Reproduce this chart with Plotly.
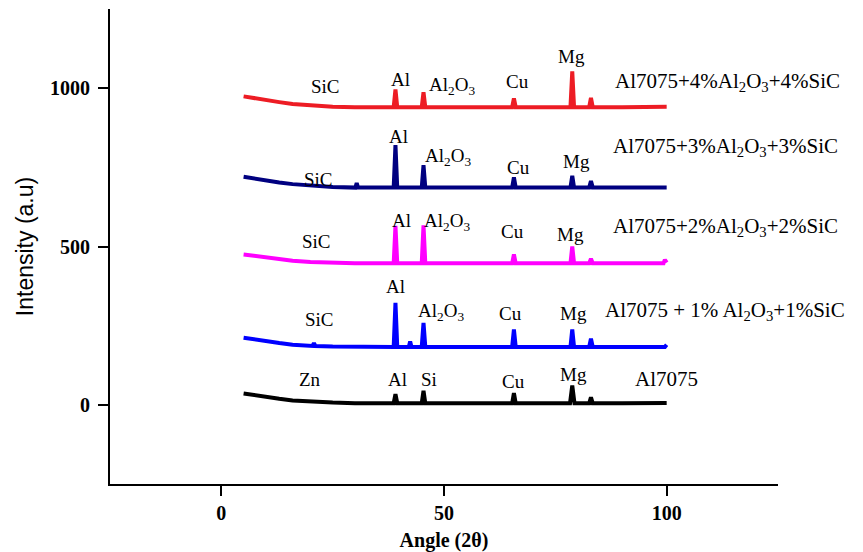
import plotly.graph_objects as go

# ---------------- data ----------------
# 2-theta sample points (deg) and intensities (a.u.) for each pattern
al7075_x = [5, 7, 10, 13, 16, 20, 25, 30, 38.7, 39.1, 39.5, 45.0, 45.4, 45.8,
            65.3, 65.7, 66.1, 78.3, 78.8, 79.3, 82.6, 83.0, 83.4, 90, 100]
al7075_y = [36, 31, 25, 19, 14, 10, 7, 5, 5, 34, 5, 5, 44, 5,
            5, 37, 5, 5, 61, 5, 5, 24, 5, 5, 6]

mix1_x = [5, 7, 10, 13, 16, 20.5, 20.8, 21.1, 25, 30, 38.7, 39.1, 39.5,
          42.1, 42.4, 42.7, 45.0, 45.4, 45.8, 65.3, 65.7, 66.1, 78.4, 78.8, 79.2,
          82.6, 83.0, 83.4, 90, 99.6, 100]
mix1_y = [212, 207, 200, 195, 190, 186, 195, 186, 184, 183, 183, 322, 183,
          183, 200, 183, 183, 259, 183, 183, 238, 183, 183, 238, 183,
          183, 209, 183, 183, 183, 190]

mix2_x = [5, 7, 10, 13, 16, 20, 25, 30, 38.7, 39.1, 39.5, 45.0, 45.4, 45.8,
          65.3, 65.7, 66.1, 78.4, 78.8, 79.2, 82.6, 83.0, 83.4, 90, 99.3, 99.6, 100]
mix2_y = [475, 471, 465, 460, 455, 451, 448, 447, 447, 565, 447, 447, 567, 447,
          447, 475, 447, 447, 500, 447, 447, 461, 447, 447, 447, 458, 449]

mix3_x = [5, 7, 10, 13, 16, 20, 25, 30.1, 30.4, 30.7, 33, 38.7, 39.1, 39.5,
          45.0, 45.4, 45.8, 65.3, 65.7, 66.1, 78.4, 78.8, 79.2, 82.6, 83.0, 83.4, 90, 100]
mix3_y = [720, 715, 708, 702, 697, 692, 688, 686, 700, 686, 686, 686, 820, 686,
          686, 757, 686, 686, 718, 686, 686, 723, 686, 686, 707, 686, 686, 686]

mix4_x = [5, 7, 10, 13, 16, 20, 25, 30, 38.7, 39.1, 39.5, 45.0, 45.4, 45.8,
          65.3, 65.7, 66.1, 78.4, 78.8, 79.2, 82.6, 83.0, 83.4, 90, 100]
mix4_y = [974, 969, 962, 956, 950, 945, 941, 940, 940, 996, 940, 940, 987, 940,
          940, 968, 940, 940, 1053, 940, 940, 969, 940, 940, 941]

series_names = ["Al7075", "Al7075 + 1% Al2O3+1%SiC", "Al7075+2%Al2O3+2%SiC",
                "Al7075+3%Al2O3+3%SiC", "Al7075+4%Al2O3+4%SiC"]
series_colors = ["#000000", "#0000ff", "#ff00ff", "#000080", "#ed1c24"]

# sample labels at the right end of each pattern
sample_text = ["Al7075", "Al7075 + 1% Al<sub>2</sub>O<sub>3</sub>+1%SiC",
               "Al7075+2%Al<sub>2</sub>O<sub>3</sub>+2%SiC",
               "Al7075+3%Al<sub>2</sub>O<sub>3</sub>+3%SiC",
               "Al7075+4%Al<sub>2</sub>O<sub>3</sub>+4%SiC"]
sample_x = [92.4, 85.8, 87.4, 87.6, 88.0]
sample_y = [82, 295, 561, 814, 1020]

# phase labels over the peaks
A = "Al<sub>2</sub>O<sub>3</sub>"
phase_text = ["Zn", "Al", "Si", "Cu", "Mg",
              "SiC", "Al", A, "Cu", "Mg",
              "SiC", "Al", A, "Cu", "Mg",
              "SiC", "Al", A, "Cu", "Mg",
              "SiC", "Al", A, "Cu", "Mg"]
phase_x = [19.9, 39.5, 46.7, 65.6, 79.1,
           22.1, 39.0, 49.4, 64.9, 79.0,
           21.3, 40.4, 50.6, 65.4, 78.4,
           21.9, 39.7, 51.0, 66.7, 79.8,
           23.5, 40.3, 51.9, 66.5, 78.6]
phase_y = [79, 79, 79, 73, 95,
           269, 374, 292, 290, 290,
           516, 583, 578, 546, 538,
           713, 848, 783, 750, 770,
           1004, 1027, 1008, 1020, 1100]

x_ticks = [0, 50, 100]
y_ticks = [0, 500, 1000]

# ---------------- figure ----------------
fig = go.Figure()
for xs, ys, name, col in zip([al7075_x, mix1_x, mix2_x, mix3_x, mix4_x],
                             [al7075_y, mix1_y, mix2_y, mix3_y, mix4_y],
                             series_names, series_colors):
    fig.add_trace(go.Scatter(x=xs, y=ys, mode="lines", name=name,
                             line=dict(color=col, width=4), showlegend=False))

serif = "Liberation Serif, Times New Roman, serif"
annotations = []
for t, x, y in zip(phase_text, phase_x, phase_y):
    annotations.append(dict(x=x, y=y, xref="x", yref="y", text=t, showarrow=False,
                            font=dict(family=serif, size=19, color="black"),
                            xanchor="center", yanchor="middle"))
for t, x, y in zip(sample_text, sample_x, sample_y):
    annotations.append(dict(x=x, y=y, xref="x", yref="y", text=t, showarrow=False,
                            font=dict(family=serif, size=21, color="black"),
                            xanchor="left", yanchor="middle"))

# the page body adds an 8 px offset, so the figure is 8 px smaller than the window
fig.update_layout(
    width=855, height=544,
    margin=dict(l=102, r=85, t=1, b=68),
    paper_bgcolor="white", plot_bgcolor="white",
    annotations=annotations,
    xaxis=dict(range=[-25, 125], tickvals=x_ticks, showgrid=False, zeroline=False,
               automargin=False,
               showline=True, linecolor="black", linewidth=2,
               ticks="outside", ticklen=10, tickwidth=2, tickcolor="black",
               tickfont=dict(family=serif, size=20, color="black", weight="bold"),
               title=dict(text="<b>Angle (2θ)</b>", standoff=16,
                          font=dict(family=serif, size=20, color="black"))),
    yaxis=dict(range=[-250, 1250], tickvals=y_ticks, showgrid=False, zeroline=False,
               automargin=False, ticklabelstandoff=4,
               showline=True, linecolor="black", linewidth=2,
               ticks="outside", ticklen=10, tickwidth=2, tickcolor="black",
               tickfont=dict(family=serif, size=20, color="black", weight="bold"),
               title=dict(text="Intensity (a.u)", standoff=10,
                          font=dict(family="Liberation Sans, Arial, sans-serif",
                                    size=23, color="black"))),
)

fig.write_html("out.html")
